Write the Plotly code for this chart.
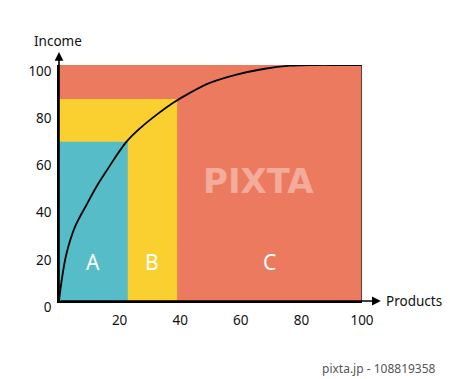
import plotly.graph_objects as go

# ---- data ----
classes = ["C", "B", "A"]
class_x_end = [100, 39, 22.7]
class_y_end = [100, 85.6, 67.5]
class_colors = ["#EC7A5F", "#F9D030", "#55BCC8"]
label_x = [69.6, 30.7, 11.2]
label_y = [16.5, 16.5, 16.5]

curve_x = [0, 0.9, 2.5, 5.3, 9.1, 12.4, 15.2, 22.3, 27.3, 32.8, 37.7, 43.2, 49.8, 58.6, 67.4, 76.2, 85, 92, 100]
curve_y = [0, 8.9, 20.2, 31.5, 40.8, 48.5, 54.2, 67.5, 73.8, 79.5, 84.0, 88.2, 92.4, 95.9, 98.3, 99.7, 100, 100, 100]

x_ticks = [20, 40, 60, 80, 100]
y_ticks = [0, 20, 40, 60, 80, 100]

FONT = "Noto Sans"

fig = go.Figure()

shapes = []
for xe, ye, col in zip(class_x_end, class_y_end, class_colors):
    shapes.append(dict(type="rect", xref="x", yref="y", x0=0, x1=xe, y0=0, y1=ye,
                       fillcolor=col, line=dict(width=0), layer="below"))
# right edge line
shapes.append(dict(type="line", xref="x", yref="y", x0=100, x1=100, y0=0, y1=100,
                   line=dict(color="#222", width=1.3)))

fig.add_trace(go.Scatter(x=curve_x, y=curve_y, mode="lines",
                         line=dict(color="black", width=1.8, shape="spline", smoothing=1.0),
                         hoverinfo="skip", showlegend=False, cliponaxis=False))

annotations = []
for c, lx, ly in zip(classes, label_x, label_y):
    annotations.append(dict(x=lx, y=ly, xref="x", yref="y", text=c, showarrow=False,
                            font=dict(family=FONT, size=21, color="white")))

# axis arrows
annotations.append(dict(x=106.2, y=0, xref="x", yref="y", ax=0, ay=0, axref="x", ayref="y",
                        text="", showarrow=True, arrowhead=2, arrowsize=1.1, arrowwidth=1.6,
                        arrowcolor="black"))
annotations.append(dict(x=0, y=105.5, xref="x", yref="y", ax=0, ay=0, axref="x", ayref="y",
                        text="", showarrow=True, arrowhead=2, arrowsize=1.1, arrowwidth=1.6,
                        arrowcolor="black"))
annotations.append(dict(x=58, y=41, xref="paper", yref="paper", text="Income", showarrow=False,
                        xanchor="center", yanchor="middle",
                        font=dict(family=FONT, size=13.5, color="#111")))
annotations.append(dict(x=384, y=301, xref="paper", yref="paper", text="Products", showarrow=False,
                        xanchor="left", yanchor="middle", font=dict(family=FONT, size=13.5, color="#111")))
# watermark
annotations.append(dict(x=258, y=181, xref="paper", yref="paper", text="<b>PIXTA</b>", showarrow=False,
                        xanchor="center", yanchor="middle",
                        font=dict(family="DejaVu Sans", size=34, color="rgba(255,255,255,0.38)")))
annotations.append(dict(x=438, y=368, xref="paper", yref="paper", text="pixta.jp - 108819358",
                        showarrow=False, xanchor="right", yanchor="middle",
                        font=dict(family=FONT, size=12, color="#555")))

# convert paper-pixel annotations to paper coords
W, H = 450, 379
L, R, T, B = 59, 88, 65, 78
pw, ph = W - L - R, H - T - B
for a in annotations:
    if a.get("xref") == "paper":
        a["x"] = (a["x"] - L) / pw
        a["y"] = (H - B - a["y"]) / ph

fig.update_layout(
    width=W, height=H,
    margin=dict(l=L, r=R, t=T, b=B),
    paper_bgcolor="white", plot_bgcolor="white",
    shapes=shapes, annotations=annotations,
    showlegend=False,
    xaxis=dict(range=[0, 100], tickvals=x_ticks, ticktext=[str(v) for v in x_ticks],
               showgrid=False, zeroline=False, showline=True, linecolor="black", linewidth=1.5,
               ticks="", ticklabelstandoff=6, tickfont=dict(family=FONT, size=13.5, color="#111"),
               fixedrange=True),
    yaxis=dict(range=[0, 100], tickvals=y_ticks, ticktext=[str(v) for v in y_ticks],
               showgrid=False, zeroline=False, showline=True, linecolor="black", linewidth=1.5,
               ticks="", ticklabelstandoff=3, ticklabelshift=6,
               tickfont=dict(family=FONT, size=13.5, color="#111"), fixedrange=True),
)

fig.write_html("out.html")
